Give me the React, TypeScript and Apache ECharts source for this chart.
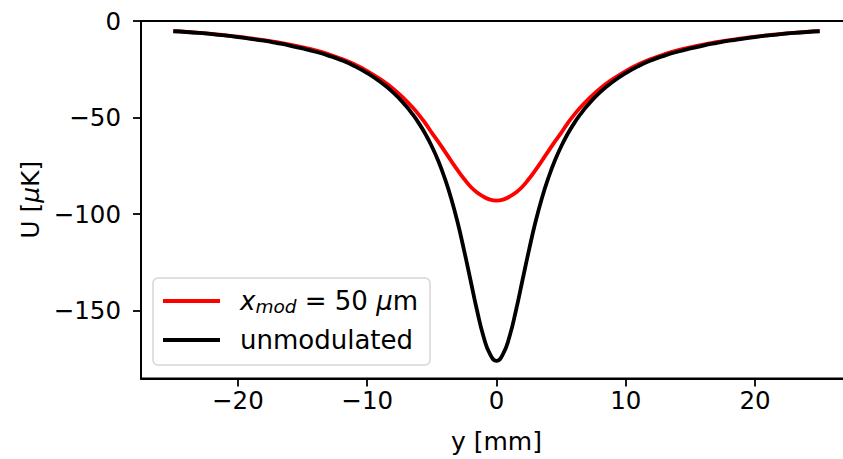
import React, { useEffect, useRef } from "react";
import * as echarts from "echarts";

// y positions [mm]
const yMm = [
  -25, -24, -23, -22, -21, -20, -19, -18, -17, -16, -15, -14, -13, -12, -11, -10, -9, -8, -7,
  -6.5, -6, -5.5, -5, -4.5, -4, -3.5, -3, -2.5, -2, -1.5, -1, -0.5, 0,
  0.5, 1, 1.5, 2, 2.5, 3, 3.5, 4, 4.5, 5, 5.5, 6, 6.5,
  7, 8, 9, 10, 11, 12, 13, 14, 15, 16, 17, 18, 19, 20, 21, 22, 23, 24, 25,
];

// x_mod = 50 µm  [µK]
const modulated = [
  -5.2, -5.6, -6.1, -6.7, -7.4, -8.1, -9.0, -9.9, -11.0, -12.2, -13.6, -15.2, -17.2, -19.6, -22.4, -25.9, -30.1, -35.0, -41.2,
  -44.7, -48.6, -53.0, -57.9, -62.6, -67.5, -72.5, -77.3, -81.8, -85.8, -88.8, -91.0, -92.5, -93.0,
  -92.5, -91.0, -88.8, -85.8, -81.8, -77.3, -72.5, -67.5, -62.6, -57.9, -53.0, -48.6, -44.7,
  -41.2, -35.0, -30.1, -25.9, -22.4, -19.6, -17.2, -15.2, -13.6, -12.2, -11.0, -9.9, -9.0, -8.1, -7.4, -6.7, -6.1, -5.6, -5.2,
];

// unmodulated [µK]
const unmodulated = [
  -5.3, -5.7, -6.2, -6.8, -7.5, -8.3, -9.2, -10.2, -11.4, -12.7, -14.2, -15.9, -17.9, -20.3, -23.3, -27.0, -31.5, -37.0, -44.0,
  -48.2, -53.0, -58.5, -65.0, -72.5, -81.5, -92.0, -104.5, -119.0, -134.5, -150.0, -163.5, -172.5, -176.0,
  -172.5, -163.5, -150.0, -134.5, -119.0, -104.5, -92.0, -81.5, -72.5, -65.0, -58.5, -53.0, -48.2,
  -44.0, -37.0, -31.5, -27.0, -23.3, -20.3, -17.9, -15.9, -14.2, -12.7, -11.4, -10.2, -9.2, -8.3, -7.5, -6.8, -6.2, -5.7, -5.3,
];

const xTicks = [-20, -10, 0, 10, 20];
const yTicks = [0, -50, -100, -150];

const FONT = "DejaVu Sans";
const fmt = (v: number) => (v < 0 ? "\u2212" + Math.abs(v) : String(v));

export default function App() {
  const ref = useRef<HTMLDivElement>(null);
  useEffect(() => {
    if (!ref.current) return;
    const chart = echarts.init(ref.current, undefined, { renderer: "svg" });
    const pairs = (vals: number[]) => yMm.map((x, i) => [x, vals[i]]);
    chart.setOption({
      animation: false,
      backgroundColor: "#ffffff",
      textStyle: { fontFamily: FONT },
      grid: {
        left: 141,
        top: 21,
        width: 711,
        height: 357.5,
        show: true,
        borderColor: "#000",
        borderWidth: 1.8,
        backgroundColor: "transparent",
        containLabel: false,
        outerBoundsMode: "none",
      },
      xAxis: {
        type: "value",
        min: -27.5,
        max: 27.5,
        name: "y [mm]",
        nameLocation: "middle",
        nameGap: 50,
        nameTextStyle: { fontFamily: FONT, fontSize: 25, color: "#000" },
        axisLine: { show: true, onZero: false, lineStyle: { color: "#000", width: 1.8 } },
        axisTick: { show: true, length: 8, lineStyle: { color: "#000", width: 1.8 }, customValues: xTicks },
        axisLabel: {
          customValues: xTicks,
          formatter: fmt,
          margin: 9,
          fontFamily: FONT,
          fontSize: 24.5,
          color: "#000",
        },
        splitLine: { show: false },
      },
      yAxis: {
        type: "value",
        min: -185.1,
        max: 0,
        name: "U [{i|μ}K]",
        nameLocation: "middle",
        nameGap: 96,
        nameRotate: 90,
        nameTextStyle: {
          fontFamily: FONT,
          fontSize: 25,
          color: "#000",
          rich: { i: { fontFamily: FONT, fontSize: 25, fontStyle: "italic", color: "#000" } },
        },
        axisLine: { show: true, onZero: false, lineStyle: { color: "#000", width: 1.8 } },
        axisTick: { show: true, length: 8, lineStyle: { color: "#000", width: 1.8 }, customValues: yTicks },
        axisLabel: {
          customValues: yTicks,
          formatter: fmt,
          margin: 20,
          fontFamily: FONT,
          fontSize: 24.5,
          color: "#000",
        },
        splitLine: { show: false },
      },
      legend: {
        orient: "vertical",
        left: 153,
        top: 278,
        padding: [8, 12, 10, 10],
        itemGap: 9,
        itemWidth: 57,
        itemHeight: 3.8,
        icon: "rect",
        backgroundColor: "rgba(255,255,255,0.8)",
        borderColor: "#d6d6d6",
        borderWidth: 1.5,
        borderRadius: 5,
        data: ["x_mod", "unmodulated"],
        formatter: (name: string) =>
          name === "x_mod" ? "{i|x}{sub|mod}{n| = 50 }{i|μ}{n|m}" : "{n|unmodulated}",
        textStyle: {
          fontFamily: FONT,
          fontSize: 26,
          color: "#000",
          padding: [0, 0, 0, 15],
          lineHeight: 30,
          rich: {
            n: { fontFamily: FONT, fontSize: 26, color: "#000", lineHeight: 30 },
            i: { fontFamily: FONT, fontSize: 26, fontStyle: "italic", color: "#000", lineHeight: 30 },
            sub: {
              fontFamily: FONT,
              fontSize: 18.5,
              fontStyle: "italic",
              color: "#000",
              lineHeight: 30,
              verticalAlign: "bottom",
              padding: [8, 0, 0, 0],
            },
          },
        },
      },
      series: [
        {
          name: "x_mod",
          type: "line",
          data: pairs(modulated),
          showSymbol: false,
          symbol: "none",
          smooth: true,
          lineStyle: { color: "#ff0000", width: 3.8 },
          itemStyle: { color: "#ff0000" },
          z: 2,
        },
        {
          name: "unmodulated",
          type: "line",
          data: pairs(unmodulated),
          showSymbol: false,
          symbol: "none",
          smooth: true,
          lineStyle: { color: "#000000", width: 3.8 },
          itemStyle: { color: "#000000" },
          z: 3,
        },
      ],
    });
    return () => chart.dispose();
  }, []);
  return (
    <div
      ref={ref}
      style={{ position: "fixed", left: 0, top: 0, width: 843, height: 459, background: "#fff" }}
    />
  );
}
